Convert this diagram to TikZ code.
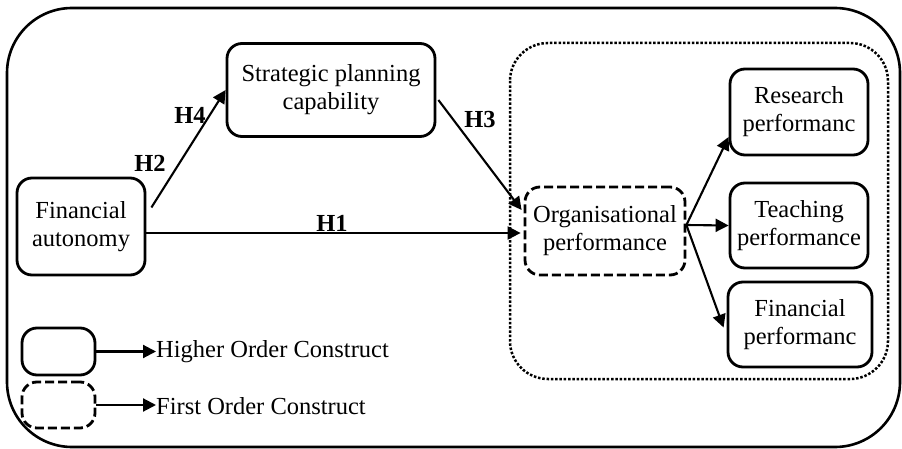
\documentclass[tikz,border=0pt]{standalone}
\usepackage{fontspec}
\setmainfont{Liberation Serif}
\usetikzlibrary{arrows.meta,calc}

\tikzset{
	construct/.style={draw,line width=2.8pt,rounded corners=15pt,align=center,inner sep=0pt},
	firstorder/.style={construct,dash pattern=on 9pt off 4pt},
	link/.style={line width=2.1pt,-{Triangle[length=13pt,width=13pt]}},
	hyp/.style={font=\fontsize{24.5}{28}\selectfont\bfseries,inner sep=0pt},
}

\begin{document}
\begin{tikzpicture}[x=1pt,y=-1pt,font=\fontsize{24.5}{28}\selectfont]
				\useasboundingbox (0,0) rectangle (902,449);
				% frame and the group of performance constructs
				\draw[line width=2.6pt,rounded corners=65pt] (7,8) rectangle (900,447);
				\draw[line width=2.5pt,dash pattern=on 2.5pt off 1.8pt,rounded corners=38pt] (510,43) rectangle (888,379);
				
				\node[construct,minimum width=128pt,minimum height=97pt] (fin) at (81,226.5) {Financial\\autonomy};
				\node[construct,minimum width=208pt,minimum height=93pt] (spc) at (331,90) {Strategic planning\\capability};
				\node[firstorder,minimum width=160pt,minimum height=88pt] (org) at (605,231) {Organisational\\performance};
				\node[construct,minimum width=138pt,minimum height=86pt] (res) at (799,112) {Research\\performanc};
				\node[construct,minimum width=138pt,minimum height=85pt] (tea) at (799,225.5) {Teaching\\performance};
				\node[construct,minimum width=144pt,minimum height=85pt] (fperf) at (800,324.5) {Financial\\performanc};
				
				\draw[link] ($(fin.east)+(5,-19)$) -- (spc.west);
				\draw[link] ($(spc.east)+(2,10)$) -- ($(org.west)+(-2,-21)$);
				\draw[link] ($(fin.east)+(0,6.5)$) -- ($(org.west)+(-3,2)$);
				\draw[link] ($(org.east)+(0,-6)$) -- ($(res.west)+(0,25)$);
				\draw[link] ($(org.east)+(0,-6)$) -- (tea.west);
				\draw[link] ($(org.east)+(0,-6)$) -- ($(fperf.west)+(-3,3)$);
				
				\node[hyp] (h4) at (190,115) {H4};
				\node[hyp] (h2) at (150,163) {H2};
				\node[hyp] (h3) at (480,120) {H3};
				\node[hyp] (h1) at (332,223) {H1};
				
				% legend
				\node[construct,minimum width=73pt,minimum height=47pt] (hoc) at (58.5,351.5) {};
				\node[firstorder,minimum width=73pt,minimum height=46pt] (foc) at (58.5,405) {};
				\node[anchor=west,inner sep=0pt] (hoctext) at (156,352) {Higher Order Construct};
				\node[anchor=west,inner sep=0pt] (foctext) at (156,406) {First Order Construct};
				\draw[link] (hoc.east) -- (hoc.east -| hoctext.west);
				\draw[link] (foc.east) -- (foc.east -| foctext.west);
			\end{tikzpicture}
\end{document}
